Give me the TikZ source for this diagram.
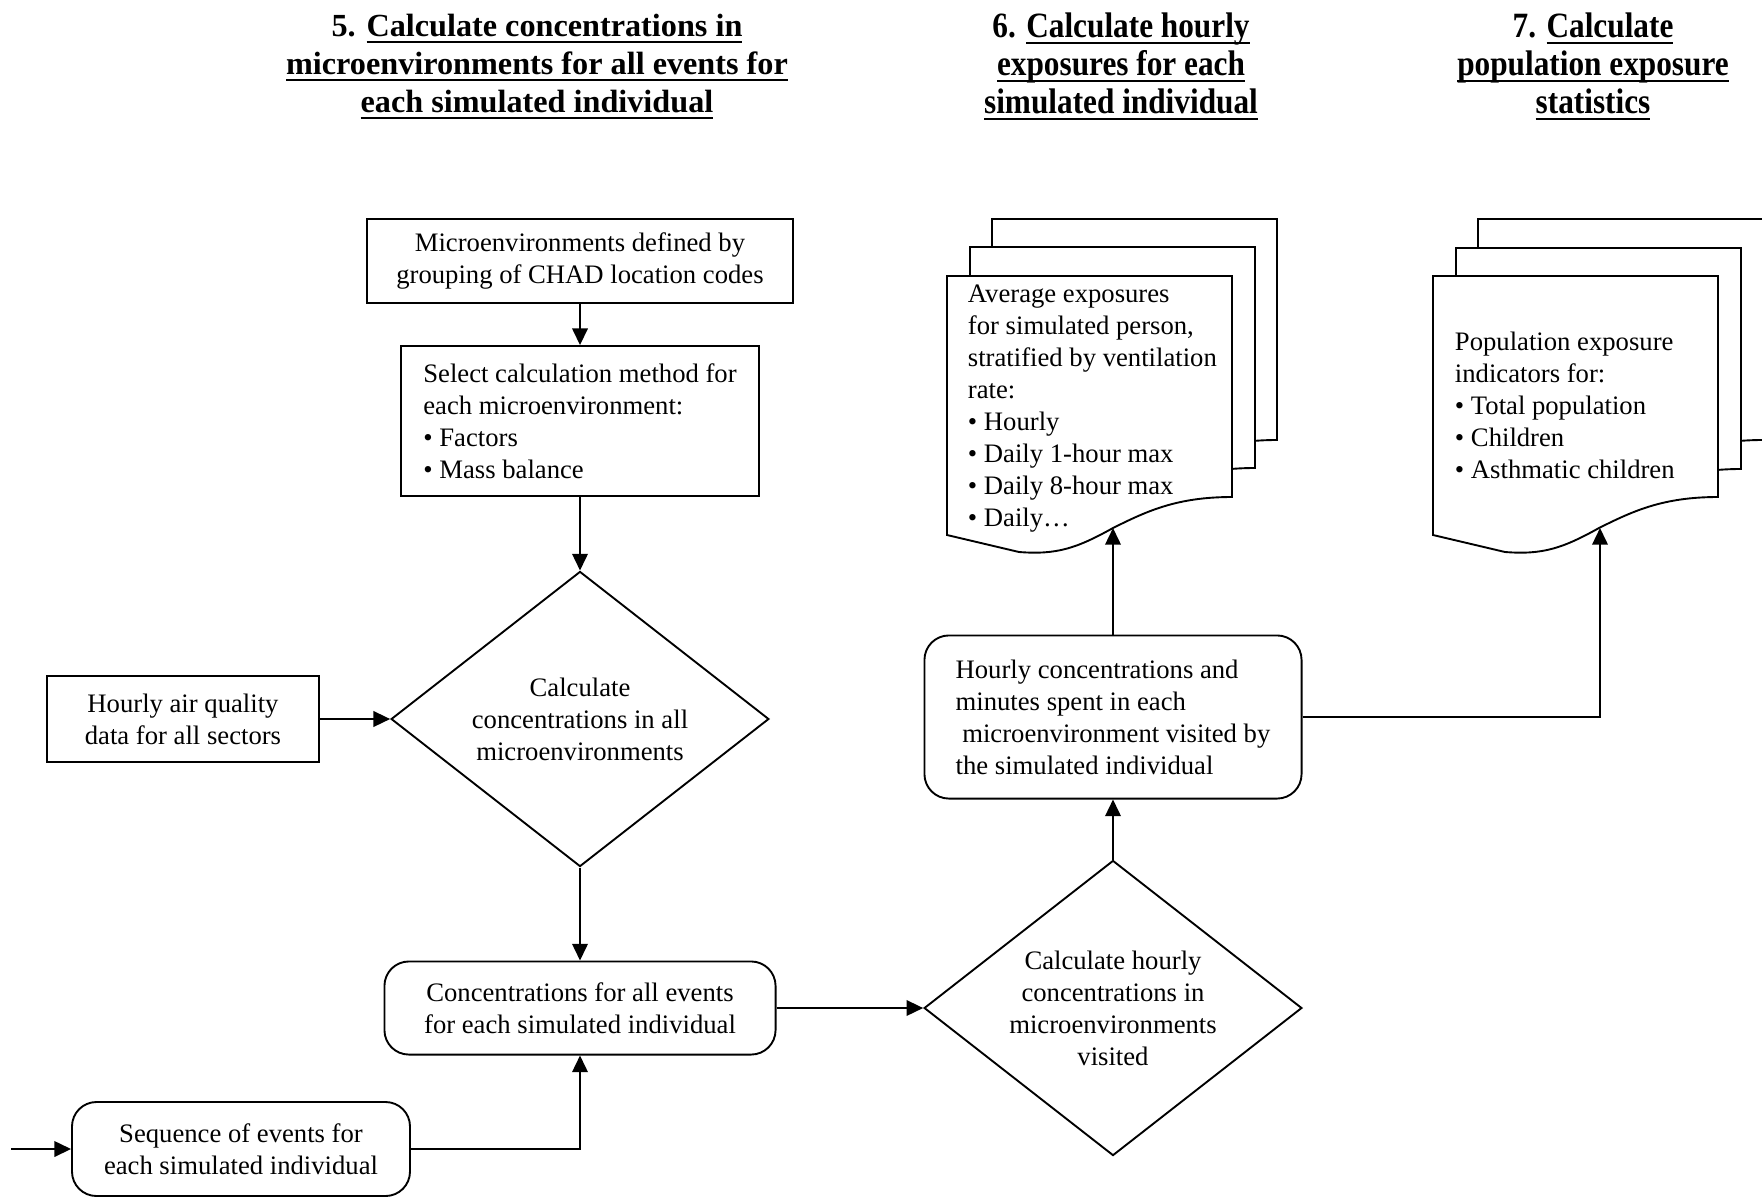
\documentclass[tikz,border=0pt]{standalone}
\usepackage{fontspec}
\setmainfont{Liberation Serif}
\newfontfamily\titulonarrow[FakeStretch=0.88]{Liberation Serif}
\usepackage{tikz}
\usetikzlibrary{shapes.geometric,arrows.meta}
\newcommand{\subrayado}[1]{\setbox0\hbox{#1}\rlap{\rule[-3pt]{\wd0}{1.1pt}}\box0}
\newcommand{\hoja}[2]{\draw[fill=white, shift={(#1,#2)}] (0,0) -- (285,0) -- (285,221)
    .. controls (230,221) and (200,235) .. (166,252)
    .. controls (130,272) and (110,279) .. (72,276) -- (0,259) -- cycle;}

\begin{document}
\begin{tikzpicture}[x=0.45pt, y=-0.45pt, line width=0.85pt,
        texto/.style={font=\fontsize{12}{14.4}\selectfont, align=center},
        caja/.style={texto, draw, rectangle, inner sep=0pt},
        cajared/.style={caja, rounded corners=11pt},
        rombo/.style={texto, draw, diamond, aspect=1.28, inner sep=0pt,
                      minimum width=170pt, minimum height=132.8pt},
        titulo/.style={font=\bfseries\fontsize{14.5}{17.1}\selectfont, align=center},
        titulonarrow/.style={titulo, font=\titulonarrow\bfseries\fontsize{16}{17.1}\selectfont},
        flecha/.style={-{Triangle[length=7.5pt,width=7pt]}}]
    \useasboundingbox (0,0) rectangle (1762,1200);
    \clip (0,0) rectangle (1762,1200);
    % Titulos de las etapas
    \node[titulo] (tit5) at (537,66.5) {5. \subrayado{Calculate concentrations in}\\
        \subrayado{microenvironments for all events for}\\\subrayado{each simulated individual}};
    \node[titulonarrow] (tit6) at (1121,66.5) {6. \subrayado{Calculate hourly}\\
        \subrayado{exposures for each}\\\subrayado{simulated individual}};
    \node[titulonarrow] (tit7) at (1593,66.5) {7. \subrayado{Calculate}\\
        \subrayado{population exposure}\\\subrayado{statistics}};
    % Etapa 5: microambientes
    \node[caja, minimum width=191.7pt, minimum height=37.8pt] (micro) at (580,261)
        {Microenvironments defined by\\grouping of CHAD location codes};
    \node[caja, align=left, minimum width=161.1pt, minimum height=67.5pt] (metodo) at (580,421)
        {Select calculation method for\\each microenvironment:\\• Factors\\• Mass balance};
    \node[rombo] (calc) at (580,719)
        {Calculate\\concentrations in all\\microenvironments};
    \node[caja, minimum width=122.4pt, minimum height=38.7pt] (aire) at (183,719)
        {Hourly air quality\\data for all sectors};
    \node[cajared, minimum width=176pt, minimum height=41.9pt] (conc) at (580,1008)
        {Concentrations for all events\\for each simulated individual};
    \node[cajared, minimum width=152.1pt, minimum height=42.3pt] (secuencia) at (241,1149)
        {Sequence of events for\\each simulated individual};
    \coordinate (inicio) at (11,1149);
    % Etapa 6: exposiciones horarias
    \node[rombo] (horaria) at (1113,1008)
        {Calculate hourly\\concentrations in\\microenvironments\\visited};
    \node[cajared, align=left, minimum width=169.7pt, minimum height=73.4pt] (minutos) at (1113,717)
        {Hourly concentrations and\\minutes spent in each\\\hspace{3pt}microenvironment visited by\\the simulated individual};
    \hoja{992}{219} \hoja{970}{247} \hoja{947}{276}
    \node[texto, align=left, anchor=west, inner sep=0pt] (promedio) at (967,408.5)
        {Average exposures\\for simulated person,\\stratified by ventilation\\rate:\\• Hourly\\• Daily 1-hour max\\• Daily 8-hour max\\• Daily…};
    \coordinate (promedioin) at (1113,528);
    % Etapa 7: estadisticas de poblacion
    \hoja{1478}{219} \hoja{1456}{248} \hoja{1433}{276}
    \node[texto, align=left, anchor=west, inner sep=0pt] (poblacion) at (1454,405)
        {Population exposure\\indicators for:\\• Total population\\• Children\\• Asthmatic children};
    \coordinate (poblacionin) at (1600,528);
    % Conectores
    \draw[flecha] (micro) -- (metodo);
    \draw[flecha] (metodo) -- (calc);
    \draw[flecha] (aire) -- (calc);
    \draw[flecha] (calc) -- (conc);
    \draw[flecha] (inicio) -- (secuencia.west);
    \draw[flecha] (secuencia.east) -| (conc.south);
    \draw[flecha] (conc.east) -- (horaria.west);
    \draw[flecha] (horaria) -- (minutos);
    \draw[flecha] (minutos.north) -- (promedioin);
    \draw[flecha] (minutos.east) -| (poblacionin);
\end{tikzpicture}
\end{document}
